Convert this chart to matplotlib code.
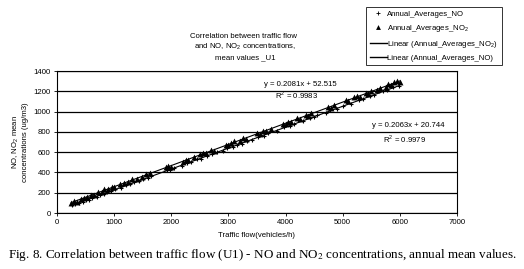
import numpy as np
import matplotlib
matplotlib.use("Agg")
import matplotlib.pyplot as plt
from matplotlib.lines import Line2D

no2_x = [250, 300, 350, 420, 480, 520, 600, 650, 720, 780, 830, 900, 960, 1000, 1100, 1180, 1250,
         1320, 1400, 1480, 1560, 1620, 1900, 1950, 2000, 2200, 2250, 2300, 2400, 2500, 2550, 2600,
         2700, 2750, 2950, 3000, 3050, 3100, 3200, 3250, 3300, 3500, 3550, 3600, 3650, 3750, 3950,
         4000, 4050, 4100, 4200, 4250, 4350, 4400, 4450, 4750, 4800, 4850, 5050, 5100, 5200, 5250,
         5300, 5400, 5450, 5500, 5600, 5650, 5750, 5800, 5850, 5900, 5950, 6000]
no2_y = [100, 118, 110, 138, 145, 160, 182, 178, 205, 210, 232, 236, 258, 255, 288, 300, 310,
         332, 340, 355, 385, 395, 450, 460, 455, 505, 525, 520, 548, 580, 595, 588,
         622, 615, 672, 668, 690, 705, 712, 735, 728, 785, 780, 808, 806, 830, 880,
         875, 902, 898, 935, 930, 965, 960, 985, 1045, 1040, 1068, 1110, 1105, 1142, 1150,
         1148, 1180, 1178, 1205, 1212, 1235, 1245, 1268, 1262, 1290, 1300, 1295]

no_x = [260, 320, 380, 450, 500, 560, 620, 700, 750, 820, 880, 950, 1020, 1120, 1200, 1280, 1350,
        1430, 1500, 1600, 1650, 1920, 1980, 2050, 2180, 2280, 2350, 2450, 2520, 2620, 2720, 2800,
        2900, 2980, 3080, 3150, 3230, 3320, 3420, 3520, 3620, 3700, 3850, 3980, 4080, 4150, 4300,
        4420, 4500, 4550, 4700, 4780, 4900, 5000, 5150, 5280, 5350, 5480, 5550, 5700, 5780, 5880, 5980]
no_y = [78, 85, 102, 110, 128, 133, 152, 160, 178, 186, 206, 214, 235, 248, 272, 282, 303,
        312, 334, 346, 365, 420, 425, 448, 466, 495, 502, 530, 537, 566, 578, 603,
        615, 640, 652, 675, 683, 710, 722, 752, 764, 788, 811, 846, 858, 881, 904,
        938, 945, 963, 986, 1011, 1028, 1056, 1079, 1115, 1120, 1155, 1162, 1201, 1209, 1238, 1250]

x_ticks = [0, 1000, 2000, 3000, 4000, 5000, 6000, 7000]
y_ticks = [0, 200, 400, 600, 800, 1000, 1200, 1400]

eq_no2 = "y = 0.2081x + 52.515"
r2_no2 = "R$^2$ = 0.9983"
eq_no = "y = 0.2063x + 20.744"
r2_no = "R$^2$ = 0.9979"

sans = ["Liberation Sans", "DejaVu Sans"]
plt.rcParams['font.family'] = sans
plt.rcParams['mathtext.fontset'] = 'custom'
plt.rcParams['mathtext.rm'] = 'Liberation Sans'

FS = 5.6
fig = plt.figure(figsize=(5.24, 2.69), dpi=100)
W, H = 524, 269
ax = fig.add_axes([57 / W, 1 - 213 / H, 400 / W, 142 / H])

ax.set_xlim(0, 7000)
ax.set_ylim(0, 1400)
ax.set_xticks(x_ticks)
ax.set_yticks(y_ticks)
ax.tick_params(labelsize=FS, length=2.5, width=0.6, pad=2)
ax.yaxis.grid(True, color='black', lw=0.9)
ax.set_axisbelow(True)
for s in ax.spines.values():
    s.set_linewidth(0.8)

ax.scatter(no_x, no_y, marker='+', s=9, color='black', lw=0.8, zorder=3)
ax.scatter(no2_x, no2_y, marker='^', s=18, color='black', lw=0, zorder=3)

for xs, ys in [(no2_x, no2_y), (no_x, no_y)]:
    p = np.polyfit(xs, ys, 1)
    xx = np.array([min(xs), max(xs)])
    ax.plot(xx, np.polyval(p, xx), color='black', lw=0.8, zorder=4)

ax.text(4250, 1262, eq_no2, fontsize=FS, ha='center', va='center')
ax.text(4200, 1163, r2_no2, fontsize=FS, ha='center', va='center')
ax.text(6150, 858, eq_no, fontsize=FS, ha='center', va='center')
ax.text(6080, 730, r2_no, fontsize=FS, ha='center', va='center')

ax.set_xlabel("Traffic flow(vehicles/h)", fontsize=FS, labelpad=4)
ax.set_ylabel("NO, NO$_2$ mean\nconcentrations (ug/m3)", fontsize=FS, labelpad=3)

fig.text(243 / W, 1 - 36 / H, "Correlation between traffic flow", fontsize=FS, ha='center', va='center')
fig.text(245 / W, 1 - 47 / H, "and NO, NO$_2$ concentrations,", fontsize=FS, ha='center', va='center')
fig.text(245 / W, 1 - 58 / H, "mean values _U1", fontsize=FS, ha='center', va='center')

handles = [
    Line2D([], [], marker='+', ls='none', color='black', ms=2.5, mew=0.6),
    Line2D([], [], marker='^', ls='none', color='black', ms=3.5, mew=0),
    Line2D([], [], color='black', lw=1.0),
    Line2D([], [], color='black', lw=1.0),
]
labels = ["Annual_Averages_NO", "Annual_Averages_NO$_2$",
          "Linear (Annual_Averages_NO$_2$)", "Linear (Annual_Averages_NO)"]
leg = fig.legend(handles, labels, loc='upper left', bbox_to_anchor=(366 / W, 1 - 7 / H),
                 fontsize=FS, frameon=True, fancybox=False, edgecolor='black',
                 handlelength=2.2, handletextpad=0.1, borderpad=0.45, labelspacing=0.62,
                 borderaxespad=0)
leg.get_frame().set_linewidth(0.7)

fig.text(0.5, 1 - 255 / H,
         "Fig. 8. Correlation between traffic flow (U1) - NO and NO$_2$ concentrations, annual mean values.",
         fontsize=9.45, ha='center', va='center', family='Liberation Serif',
         math_fontfamily='stix')

fig.savefig("out.png", dpi=100)
